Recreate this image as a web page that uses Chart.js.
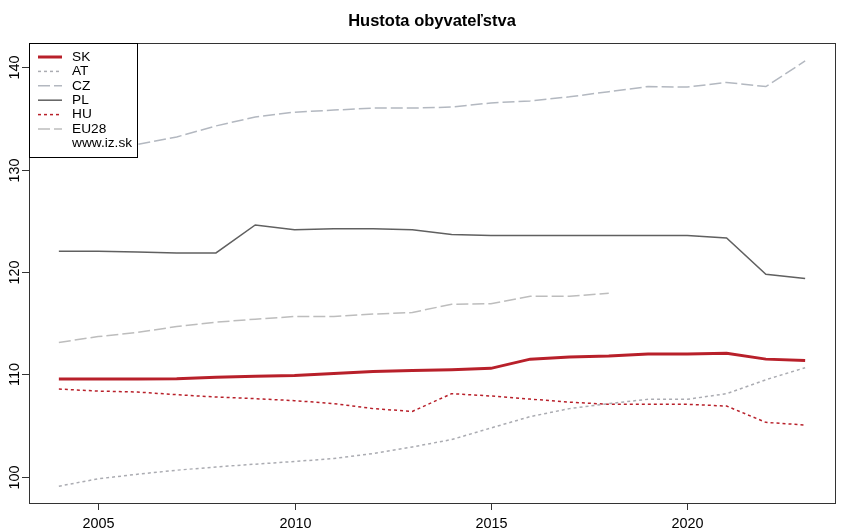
<!DOCTYPE html>
<html>
<head>
<meta charset="utf-8">
<script src="https://cdn.jsdelivr.net/npm/chart.js@4/dist/chart.umd.min.js"></script>
<style>
  html, body { margin: 0; padding: 0; background: #fff; }
  #wrap { width: 850px; height: 532px; }
</style>
</head>
<body>
<div id="wrap"><canvas id="graf" width="850" height="532"></canvas></div>
<script>
const roky = [2004, 2005, 2006, 2007, 2008, 2009, 2010, 2011, 2012, 2013, 2014, 2015, 2016, 2017, 2018, 2019, 2020, 2021, 2022, 2023];

const sk   = [109.55, 109.55, 109.55, 109.59, 109.72, 109.82, 109.91, 110.1, 110.3, 110.4, 110.47, 110.6, 111.5, 111.7, 111.8, 111.99, 111.99, 112.08, 111.5, 111.37];
const at   = [99.1, 99.82, 100.27, 100.66, 100.98, 101.25, 101.51, 101.8, 102.29, 102.93, 103.65, 104.78, 105.89, 106.67, 107.16, 107.58, 107.58, 108.13, 109.49, 110.66];
const cz   = [131.7, 131.9, 132.45, 133.18, 134.26, 135.13, 135.6, 135.8, 136.0, 136.0, 136.1, 136.5, 136.7, 137.1, 137.6, 138.1, 138.05, 138.5, 138.1, 140.6];
const pl   = [122.02, 122.02, 121.96, 121.86, 121.86, 124.59, 124.13, 124.23, 124.23, 124.13, 123.67, 123.57, 123.57, 123.57, 123.57, 123.57, 123.57, 123.32, 119.78, 119.36];
const hu   = [108.58, 108.38, 108.29, 108.03, 107.8, 107.64, 107.45, 107.16, 106.67, 106.4, 108.13, 107.9, 107.6, 107.3, 107.09, 107.09, 107.09, 106.92, 105.33, 105.07];
const eu28 = [113.13, 113.7, 114.1, 114.68, 115.1, 115.4, 115.66, 115.66, 115.9, 116.05, 116.86, 116.9, 117.63, 117.63, 117.93, null, null, null, null, null];

const xTicks = [2005, 2010, 2015, 2020];
const yTicks = [100, 110, 120, 130, 140];
const titulok = "Hustota obyvateľstva";
const zdroj = "www.iz.sk";

const FONT = '"Liberation Sans", Arial, Helvetica, sans-serif';

function body(vals) {
    return roky.map((r, i) => ({ x: r, y: vals[i] }));
}

const serie = [
    { label: 'SK',   data: body(sk),   borderColor: '#b8202a', borderWidth: 3,   borderDash: [] },
    { label: 'AT',   data: body(at),   borderColor: '#abacb2', borderWidth: 1.5, borderDash: [3, 3] },
    { label: 'CZ',   data: body(cz),   borderColor: '#b3b8c0', borderWidth: 1.5, borderDash: [12, 4] },
    { label: 'PL',   data: body(pl),   borderColor: '#606060', borderWidth: 1.5, borderDash: [] },
    { label: 'HU',   data: body(hu),   borderColor: '#b8202a', borderWidth: 1.5, borderDash: [3, 3] },
    { label: 'EU28', data: body(eu28), borderColor: '#bdbdbd', borderWidth: 1.5, borderDash: [12, 4] }
];

// ramik, osi, popisy a legenda v style R grafu
const rPlot = {
    id: 'rPlot',
    afterDatasetsDraw(chart) {
        const ctx = chart.ctx;
        const a = chart.chartArea;
        const sx = chart.scales.x, sy = chart.scales.y;
        ctx.save();

        // titulok
        ctx.fillStyle = '#000';
        ctx.font = 'bold 16.5px ' + FONT;
        ctx.textAlign = 'center';
        ctx.textBaseline = 'middle';
        ctx.fillText(titulok, (a.left + a.right) / 2, 21);

        // ramik
        ctx.strokeStyle = '#333';
        ctx.lineWidth = 1;
        ctx.setLineDash([]);
        ctx.strokeRect(a.left + 0.5, a.top + 0.5, a.right - a.left, a.bottom - a.top);

        // os x
        ctx.font = '14.4px ' + FONT;
        ctx.textBaseline = 'middle';
        xTicks.forEach(t => {
            const px = Math.round(sx.getPixelForValue(t)) + 0.5;
            ctx.beginPath();
            ctx.moveTo(px, a.bottom);
            ctx.lineTo(px, a.bottom + 7);
            ctx.stroke();
            ctx.fillText(String(t), px, a.bottom + 21);
        });

        // os y (otocene popisy)
        yTicks.forEach(t => {
            const py = Math.round(sy.getPixelForValue(t)) + 0.5;
            ctx.beginPath();
            ctx.moveTo(a.left, py);
            ctx.lineTo(a.left - 7, py);
            ctx.stroke();
            ctx.save();
            ctx.translate(a.left - 14, py);
            ctx.rotate(-Math.PI / 2);
            ctx.textAlign = 'center';
            ctx.fillText(String(t), 0, 0);
            ctx.restore();
        });

        // legenda
        ctx.font = '13.7px ' + FONT;
        const lx = a.left, ly = a.top, lw = 108, lh = 114;
        ctx.fillStyle = '#fff';
        ctx.fillRect(lx, ly, lw, lh);
        ctx.strokeStyle = '#000';
        ctx.strokeRect(lx + 0.5, ly + 0.5, lw, lh);
        ctx.textAlign = 'left';
        const krok = 14.4;
        serie.forEach((s, i) => {
            const yy = ly + 14 + i * krok;
            ctx.strokeStyle = s.borderColor;
            ctx.lineWidth = s.borderWidth;
            ctx.setLineDash(s.borderDash);
            ctx.beginPath();
            ctx.moveTo(lx + 9, yy);
            ctx.lineTo(lx + 33, yy);
            ctx.stroke();
            ctx.fillStyle = '#000';
            ctx.fillText(s.label, lx + 43, yy);
        });
        ctx.setLineDash([]);
        ctx.fillText(zdroj, lx + 43, ly + 14 + serie.length * krok);

        ctx.restore();
    }
};

new Chart(document.getElementById('graf').getContext('2d'), {
    type: 'line',
    data: {
        datasets: serie.map(s => ({
            label: s.label,
            data: s.data,
            borderColor: s.borderColor,
            borderWidth: s.borderWidth,
            borderDash: s.borderDash,
            pointRadius: 0,
            tension: 0,
            fill: false,
            spanGaps: false
        }))
    },
    options: {
        responsive: false,
        animation: false,
        events: [],
        layout: { padding: { left: 29, right: 15, top: 43, bottom: 29 } },
        plugins: {
            legend: { display: false },
            title: { display: false },
            tooltip: { enabled: false }
        },
        scales: {
            x: { type: 'linear', min: 2003.24, max: 2023.76, display: false },
            y: { type: 'linear', min: 97.46, max: 142.35, display: false }
        }
    },
    plugins: [rPlot]
});
</script>
</body>
</html>
